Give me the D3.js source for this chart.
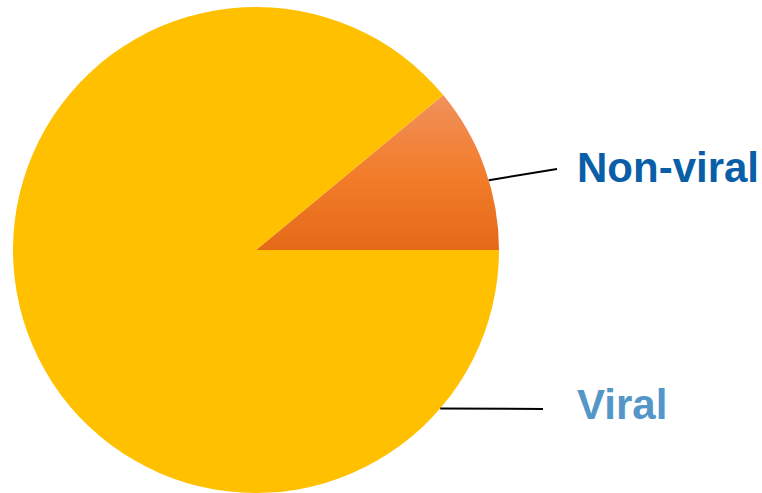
<!DOCTYPE html>
<html>
<head>
<meta charset="utf-8">
<script src="https://cdn.jsdelivr.net/npm/d3@7"></script>
<style>
  html, body { margin: 0; padding: 0; background: #fff; }
  svg { display: block; }
</style>
</head>
<body>
<svg id="chart" width="762" height="493"></svg>
<script>
const categories = ["Non-viral", "Viral"];
const values = [11, 89];

const W = 762, H = 493;
const cx = 256, cy = 250, R = 243;
const svg = d3.select("#chart");

const defs = svg.append("defs");
const grad = defs.append("linearGradient")
  .attr("id", "orangeGrad").attr("x1", 0).attr("y1", 0).attr("x2", 0).attr("y2", 1);
grad.append("stop").attr("offset", "0%").attr("stop-color", "#F0915C");
grad.append("stop").attr("offset", "50%").attr("stop-color", "#F27D2B");
grad.append("stop").attr("offset", "100%").attr("stop-color", "#E56A17");

const fills = { "Non-viral": "url(#orangeGrad)", "Viral": "#FFC000" };
const labelColors = { "Non-viral": "#0A5EA8", "Viral": "#5596C8" };

const total = d3.sum(values);
const start = Math.PI / 2 - 2 * Math.PI * values[0] / total;
const pie = d3.pie().sort(null).startAngle(start).endAngle(start + 2 * Math.PI);
const arcs = pie(values).map((d, i) => ({ ...d, cat: categories[i] }));
const arc = d3.arc().innerRadius(0).outerRadius(R);

const g = svg.append("g").attr("transform", `translate(${cx},${cy})`);
g.selectAll("path").data(arcs).join("path")
  .attr("d", arc)
  .attr("fill", d => fills[d.cat]);

// label layout (angle in degrees from east, counter-clockwise), line end, text baseline
const labelLayout = {
  "Non-viral": { ang: 16.7, x2: 557, y2: 169, ty: 182 },
  "Viral": { ang: -40.7, x2: 543, y2: 409, ty: 419 }
};
const textX = 577;

arcs.forEach(d => {
  const L = labelLayout[d.cat];
  const a = L.ang * Math.PI / 180;
  const x1 = cx + R * Math.cos(a), y1 = cy - R * Math.sin(a);
  svg.append("line")
    .attr("x1", x1).attr("y1", y1).attr("x2", L.x2).attr("y2", L.y2)
    .attr("stroke", "#000").attr("stroke-width", 2);
  svg.append("text")
    .attr("x", textX).attr("y", L.ty)
    .attr("font-family", "Liberation Sans, Arial, sans-serif")
    .attr("font-weight", "bold")
    .attr("font-size", 42)
    .attr("fill", labelColors[d.cat])
    .text(d.cat);
});
</script>
</body>
</html>
